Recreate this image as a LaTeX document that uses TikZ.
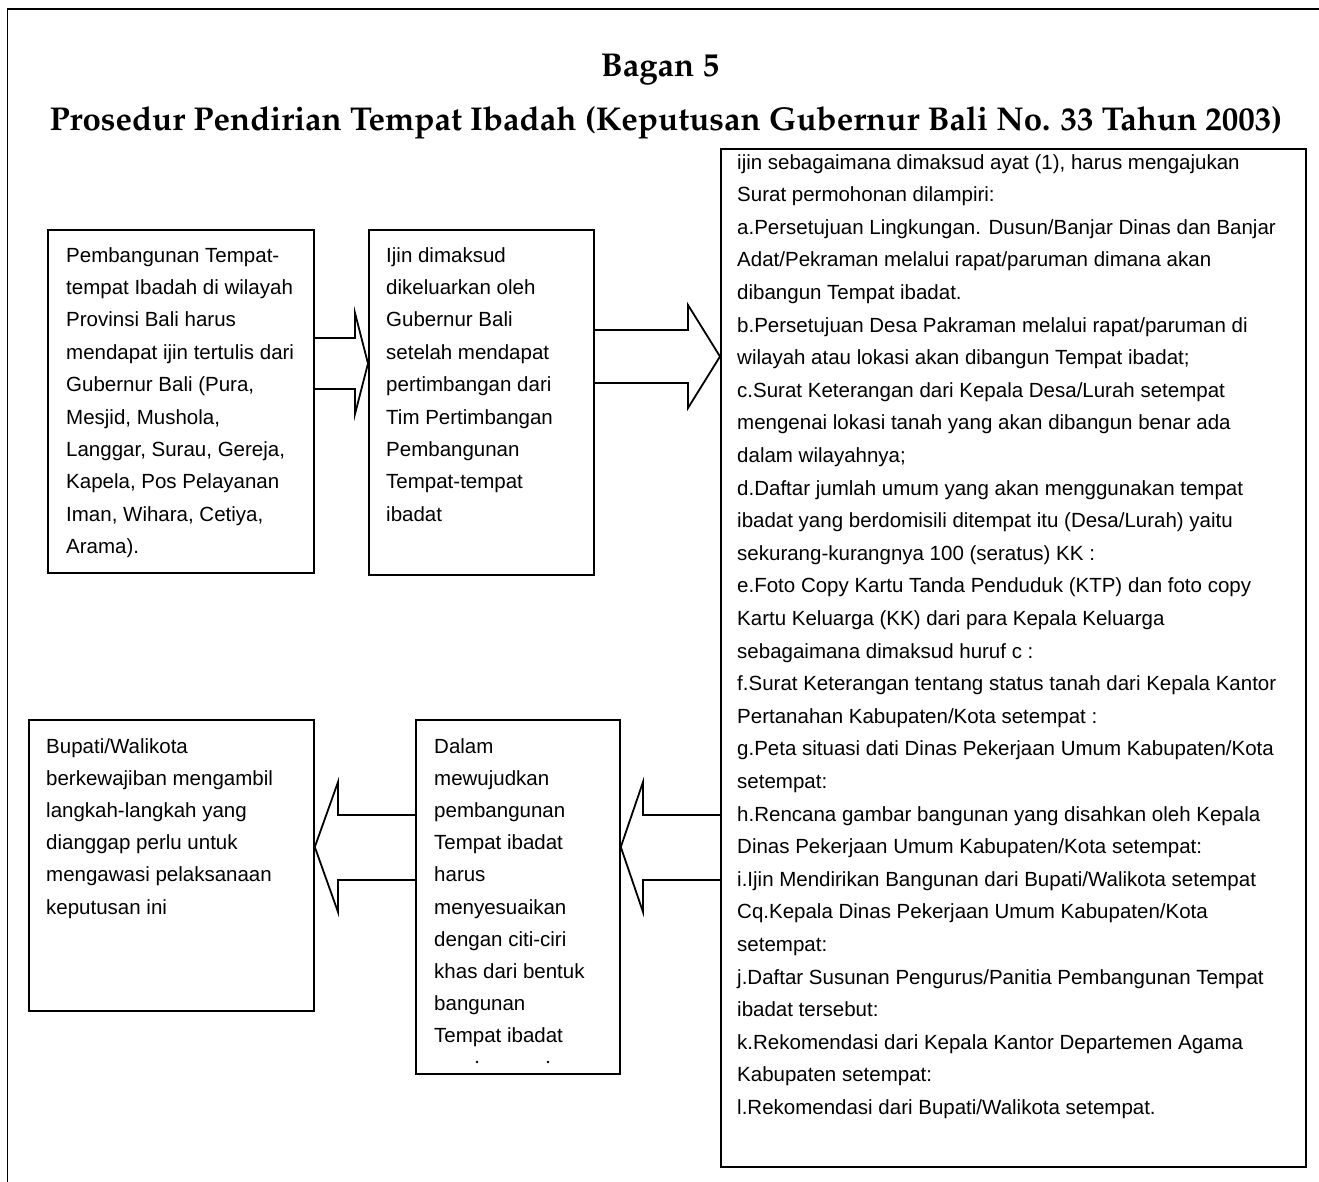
\documentclass[tikz,border=0pt]{standalone}
\usepackage{fontspec}
\newfontfamily\bodyfont{Liberation Sans}
\newcommand\titlefont{\fontencoding{OT1}\fontfamily{ppl}\fontseries{b}\selectfont}
\usetikzlibrary{calc}

\tikzset{
  framebox/.style={draw, line width=1.8pt},
  stepbox/.style={draw, line width=1.8pt, inner sep=0pt, anchor=north west},
  blockarrow/.style={draw, line width=1.8pt, line join=miter},
  bodytext/.style={inner sep=0pt, anchor=base west},
  headtext/.style={inner sep=0pt, anchor=base, font=\titlefont\fontsize{33}{38}\selectfont},
}
% left-aligned block of text with a fixed baseline skip
\newcommand\txtblock[2]{\parbox[t]{600pt}{\bodyfont\fontsize{20.5}{#1}\selectfont\raggedright #2}}

\begin{document}
\begin{tikzpicture}[x=1pt,y=-1pt]
\useasboundingbox (0,0) rectangle (1319,1181);
\fill[white] (0,0) rectangle (1319,1181);

% page frame
\draw[framebox] (7.5,9) rectangle (1340,1200);

% heading
\node[headtext] (t1) at (660,76) {Bagan 5};
\node[headtext] (t2) at (666,130) {Prosedur Pendirian Tempat Ibadah (Keputusan Gubernur Bali No. 33 Tahun 2003)};

% boxes
\node[stepbox, minimum width=266pt, minimum height=343pt] (A) at (47,229) {};
\node[stepbox, minimum width=225pt, minimum height=345pt] (B) at (368,229) {};
\node[stepbox, minimum width=585pt, minimum height=1018pt] (C) at (720,148) {};
\node[stepbox, minimum width=285pt, minimum height=291pt] (D) at (28,719) {};
\node[stepbox, minimum width=204pt, minimum height=354pt] (E) at (415,719) {};

% box texts
\node[bodytext] (tA) at ($(A.north west)+(19,33)$) {\txtblock{32.4}{%
Pembangunan Tempat-\\
tempat Ibadah di wilayah\\
Provinsi Bali harus\\
mendapat ijin tertulis dari\\
Gubernur Bali (Pura,\\
Mesjid, Mushola,\\
Langgar, Surau, Gereja,\\
Kapela, Pos Pelayanan\\
Iman, Wihara, Cetiya,\\
Arama).}};

\node[bodytext] (tB) at ($(B.north west)+(18,33)$) {\txtblock{32.4}{%
Ijin dimaksud\\
dikeluarkan oleh\\
Gubernur Bali\\
setelah mendapat\\
pertimbangan dari\\
Tim Pertimbangan\\
Pembangunan\\
Tempat-tempat\\
ibadat}};

\node[bodytext] (tC) at ($(C.north west)+(17,21)$) {\txtblock{32.6}{%
ijin sebagaimana dimaksud ayat (1), harus mengajukan\\
Surat permohonan dilampiri:\\
a.Persetujuan Lingkungan. Dusun/Banjar Dinas dan Banjar\\
Adat/Pekraman melalui rapat/paruman dimana akan\\
dibangun Tempat ibadat.\\
b.Persetujuan Desa Pakraman melalui rapat/paruman di\\
wilayah atau lokasi akan dibangun Tempat ibadat;\\
c.Surat Keterangan dari Kepala Desa/Lurah setempat\\
mengenai lokasi tanah yang akan dibangun benar ada\\
dalam wilayahnya;\\
d.Daftar jumlah umum yang akan menggunakan tempat\\
ibadat yang berdomisili ditempat itu (Desa/Lurah) yaitu\\
sekurang-kurangnya 100 (seratus) KK :\\
e.Foto Copy Kartu Tanda Penduduk (KTP) dan foto copy\\
Kartu Keluarga (KK) dari para Kepala Keluarga\\
sebagaimana dimaksud huruf c :\\
f.Surat Keterangan tentang status tanah dari Kepala Kantor\\
Pertanahan Kabupaten/Kota setempat :\\
g.Peta situasi dati Dinas Pekerjaan Umum Kabupaten/Kota\\
setempat:\\
h.Rencana gambar bangunan yang disahkan oleh Kepala\\
Dinas Pekerjaan Umum Kabupaten/Kota setempat:\\
i.Ijin Mendirikan Bangunan dari Bupati/Walikota setempat\\
Cq.Kepala Dinas Pekerjaan Umum Kabupaten/Kota\\
setempat:\\
j.Daftar Susunan Pengurus/Panitia Pembangunan Tempat\\
ibadat tersebut:\\
k.Rekomendasi dari Kepala Kantor Departemen Agama\\
Kabupaten setempat:\\
l.Rekomendasi dari Bupati/Walikota setempat.}};

\node[bodytext] (tD) at ($(D.north west)+(18,34)$) {\txtblock{32.2}{%
Bupati/Walikota\\
berkewajiban mengambil\\
langkah-langkah yang\\
dianggap perlu untuk\\
mengawasi pelaksanaan\\
keputusan ini}};

\node[bodytext] (tE) at ($(E.north west)+(19,34)$) {\txtblock{32.2}{%
Dalam\\
mewujudkan\\
pembangunan\\
Tempat ibadat\\
harus\\
menyesuaikan\\
dengan citi-ciri\\
khas dari bentuk\\
bangunan\\
Tempat ibadat}};
% tops of the clipped last line
\fill ($(E.north west)+(62,343)$) circle (1.3pt);
\fill ($(E.north west)+(133,343)$) circle (1.3pt);

% block arrows between the boxes
\draw[blockarrow] (A.east |- 0,338) -- (355,338) -- (355,313) -- (B.west |- 0,363.5)
  -- (355,414) -- (355,389) -- (A.east |- 0,389);
\draw[blockarrow] (B.east |- 0,330) -- (688,330) -- (688,305) -- (C.west |- 0,356.5)
  -- (688,408) -- (688,383) -- (B.east |- 0,383);
\draw[blockarrow] (C.west |- 0,815) -- (643,815) -- (643,782) -- (E.east |- 0,847)
  -- (643,912) -- (643,880) -- (C.west |- 0,880);
\draw[blockarrow] (E.west |- 0,815) -- (338,815) -- (338,782) -- (D.east |- 0,847)
  -- (338,912) -- (338,880) -- (E.west |- 0,880);
\end{tikzpicture}
\end{document}
